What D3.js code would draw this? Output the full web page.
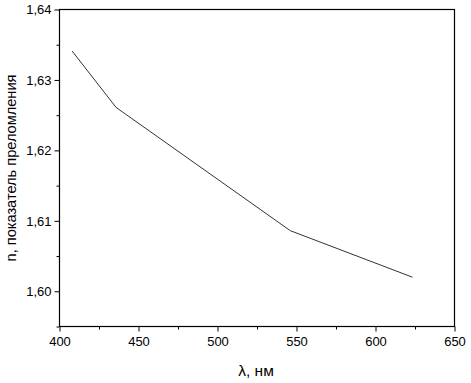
<!DOCTYPE html>
<html>
  <head>
    <meta charset="utf-8">
    <script src="https://d3js.org/d3.v7.min.js"></script>
    <style>
      body { margin: 0; background: #fff; }
      svg text { font-family: "Liberation Sans", Arial, sans-serif; fill: #000; }
    </style>
  </head>
  <body>
    <div id="chart"></div>
    <script>
      // wavelength, nm
      const lambda = [408, 435.8, 546.1, 623.4]
      // refractive index
      const nValues = [1.6341, 1.6261, 1.6086, 1.6020]
      const xTicks = [400, 450, 500, 550, 600, 650]
      const yTicks = [1.60, 1.61, 1.62, 1.63, 1.64]

      const width = 471, height = 383
      const m = {left: 59.5, right: 16.5, top: 9.5, bottom: 56.5}

      const svg = d3.select('#chart').append('svg')
        .attr('width', width)
        .attr('height', height)

      const x = d3.scaleLinear().domain([400, 650]).range([m.left, width - m.right])
      const y = d3.scaleLinear().domain([1.595, 1.64]).range([height - m.bottom, m.top])

      const fmt = d => d.toFixed(2).replace('.', ',')

      // frame
      svg.append('rect')
        .attr('x', m.left).attr('y', m.top)
        .attr('width', width - m.right - m.left)
        .attr('height', height - m.bottom - m.top)
        .attr('fill', 'none').attr('stroke', '#000').attr('stroke-width', 1.2)

      // x axis
      const xMinor = d3.range(425, 650, 50)
      svg.append('g')
        .attr('transform', `translate(0,${height - m.bottom})`)
        .call(d3.axisBottom(x).tickValues(xMinor).tickSize(3).tickFormat(''))
        .call(g => g.select('.domain').remove())
      svg.append('g')
        .attr('transform', `translate(0,${height - m.bottom})`)
        .call(d3.axisBottom(x).tickValues(xTicks).tickSize(5).tickPadding(5))
        .call(g => g.select('.domain').remove())
        .call(g => g.selectAll('text').attr('font-size', 13))

      // y axis
      const yMinor = [1.595, 1.605, 1.615, 1.625, 1.635]
      svg.append('g')
        .attr('transform', `translate(${m.left},0)`)
        .call(d3.axisLeft(y).tickValues(yMinor).tickSize(3).tickFormat(''))
        .call(g => g.select('.domain').remove())
      svg.append('g')
        .attr('transform', `translate(${m.left},0)`)
        .call(d3.axisLeft(y).tickValues(yTicks).tickSize(5).tickPadding(3).tickFormat(fmt))
        .call(g => g.select('.domain').remove())
        .call(g => g.selectAll('text').attr('font-size', 13))

      svg.selectAll('.tick line').attr('stroke', '#000')

      // line
      const pts = lambda.map((d, i) => [d, nValues[i]])
      svg.append('path')
        .datum(pts)
        .attr('fill', 'none')
        .attr('stroke', '#333')
        .attr('stroke-width', 1)
        .attr('d', d3.line().x(d => x(d[0])).y(d => y(d[1])))

      // labels
      svg.append('text')
        .attr('x', 256)
        .attr('y', 376)
        .attr('text-anchor', 'middle')
        .attr('font-size', 15.5)
        .text('λ, нм')

      svg.append('text')
        .attr('transform', `translate(15.5,168) rotate(-90)`)
        .attr('text-anchor', 'middle')
        .attr('font-size', 14.6)
        .text('n, показатель преломления')
    </script>
  </body>
</html>
